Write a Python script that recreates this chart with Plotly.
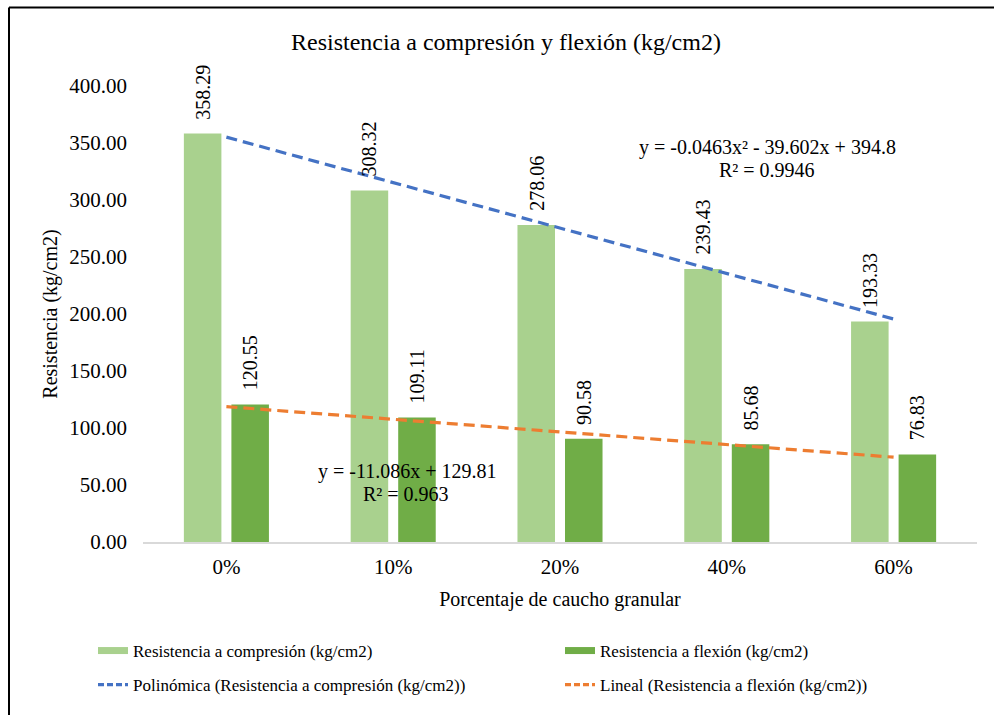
import numpy as np
import plotly.graph_objects as go

# Data
categories = ["0%", "10%", "20%", "40%", "60%"]
compresion = [358.29, 308.32, 278.06, 239.43, 193.33]
flexion = [120.55, 109.11, 90.58, 85.68, 76.83]

# Trendline coefficients (highest power first), as printed on the chart
poly_coef = [-0.0463, -39.602, 394.8]
lin_coef = [-11.086, 129.81]
poly_r2 = 0.9946
lin_r2 = 0.963

FONT = "Liberation Serif"
C_LIGHT = "#A9D18E"
C_DARK = "#70AD47"
C_BLUE = "#4472C4"
C_ORANGE = "#ED7D31"

W, H = 994, 715
ML, MR, MT, MB = 143, 17, 86, 173
PW, PH = W - ML - MR, H - MT - MB


def px_x(px):
    return (px - ML) / PW


def px_y(py):
    return (H - MB - py) / PH


def text_note(x, y, text, size=20):
    return dict(x=px_x(x), y=px_y(y), xref="paper", yref="paper", text=text,
                showarrow=False, xanchor="center", yanchor="middle",
                font=dict(family=FONT, size=size, color="#000000"))


xs = np.arange(1, len(categories) + 1)
bar_w = 0.225
off_c, off_f = -0.255, 0.03

fig = go.Figure()
fig.add_trace(go.Bar(x=xs, y=compresion, width=bar_w, offset=off_c,
                     marker=dict(color=C_LIGHT, line=dict(width=0)),
                     showlegend=False, name="Resistencia a compresión (kg/cm2)"))
fig.add_trace(go.Bar(x=xs, y=flexion, width=bar_w, offset=off_f,
                     marker=dict(color=C_DARK, line=dict(width=0)),
                     showlegend=False, name="Resistencia a flexión (kg/cm2)"))

# Trendlines evaluated over the category index range
xt = np.linspace(xs[0], xs[-1], 60)
fig.add_trace(go.Scatter(x=xt, y=np.polyval(poly_coef, xt), mode="lines",
                         line=dict(color=C_BLUE, width=3.2, dash="11px,6px"),
                         showlegend=False, hoverinfo="skip"))
fig.add_trace(go.Scatter(x=xt, y=np.polyval(lin_coef, xt), mode="lines",
                         line=dict(color=C_ORANGE, width=3.2, dash="11px,6px"),
                         showlegend=False, hoverinfo="skip"))

# Legend entries (two columns)
legend_items = [
    ("Resistencia a compresión (kg/cm2)", C_LIGHT, "solid", 7, "legend", "g1"),
    ("Polinómica (Resistencia a compresión (kg/cm2))", C_BLUE, "dash", 3.2, "legend", "g2"),
    ("Resistencia a flexión (kg/cm2)", C_DARK, "solid", 7, "legend2", "g3"),
    ("Lineal (Resistencia a flexión (kg/cm2))", C_ORANGE, "dash", 3.2, "legend2", "g4"),
]
for name, color, dash, width, leg, grp in legend_items:
    fig.add_trace(go.Scatter(x=[None], y=[None], mode="lines", name=name,
                             line=dict(color=color, width=width,
                                       dash="6px,3px" if dash == "dash" else "solid"),
                             legend=leg, legendgroup=grp, showlegend=True))

annotations = []
# Value labels above each bar
for series, off in ((compresion, off_c), (flexion, off_f)):
    for i, v in enumerate(series):
        annotations.append(dict(x=xs[i] + off + bar_w / 2, y=v, xref="x", yref="y",
                                text=f"{v:.2f}", textangle=-90, showarrow=False,
                                yanchor="bottom", xanchor="center", yshift=12,
                                font=dict(family=FONT, size=20, color="#000000")))

# Trendline equations
a, b, c = poly_coef
annotations.append(text_note(767, 147, f"y = {a}x² - {abs(b)}x + {c}"))
annotations.append(text_note(767, 170, f"R² = {poly_r2}"))
m, q = lin_coef
annotations.append(text_note(407, 471, f"y = {m}x + {q}"))
annotations.append(text_note(406, 494, f"R² = {lin_r2}"))

# Title
annotations.append(text_note(506, 42, "Resistencia a compresión y flexión (kg/cm2)", size=24))

# Chart frame
shapes = [
    dict(type="line", xref="paper", yref="paper", x0=px_x(9), x1=px_x(1000),
         y0=px_y(7.5), y1=px_y(7.5), line=dict(color="#000000", width=2)),
    dict(type="line", xref="paper", yref="paper", x0=px_x(9), x1=px_x(9),
         y0=px_y(7.5), y1=px_y(720), line=dict(color="#000000", width=2)),
]

fig.update_layout(
    width=W, height=H,
    margin=dict(l=ML, r=MR, t=MT, b=MB, autoexpand=False),
    paper_bgcolor="white", plot_bgcolor="white",
    barmode="overlay",
    font=dict(family=FONT, size=20, color="#000000"),
    annotations=annotations,
    shapes=shapes,
    xaxis=dict(range=[0.5, len(categories) + 0.5], tickvals=xs, ticktext=categories,
               showgrid=False, zeroline=False, showline=True, linecolor="#D9D9D9",
               linewidth=1.5, ticks="", ticklabelstandoff=5,
               tickfont=dict(family=FONT, size=21, color="#000000"),
               title=dict(text="Porcentaje de caucho granular", standoff=14,
                          font=dict(family=FONT, size=20, color="#000000"))),
    yaxis=dict(range=[0, 400], dtick=50, tickformat=".2f", showgrid=False,
               zeroline=False, showline=False, ticks="", ticklabelstandoff=15,
               tickfont=dict(family=FONT, size=21, color="#000000"),
               title=dict(text="Resistencia (kg/cm2)", standoff=6,
                          font=dict(family=FONT, size=20, color="#000000"))),
    legend=dict(x=px_x(93), y=px_y(633), xanchor="left", yanchor="top",
                orientation="v", tracegroupgap=9, itemwidth=30,
                font=dict(family=FONT, size=17, color="#000000"),
                bgcolor="rgba(0,0,0,0)"),
    legend2=dict(x=px_x(560), y=px_y(633), xanchor="left", yanchor="top",
                 orientation="v", tracegroupgap=9, itemwidth=30,
                 font=dict(family=FONT, size=17, color="#000000"),
                 bgcolor="rgba(0,0,0,0)"),
)

fig.write_html("out.html")
